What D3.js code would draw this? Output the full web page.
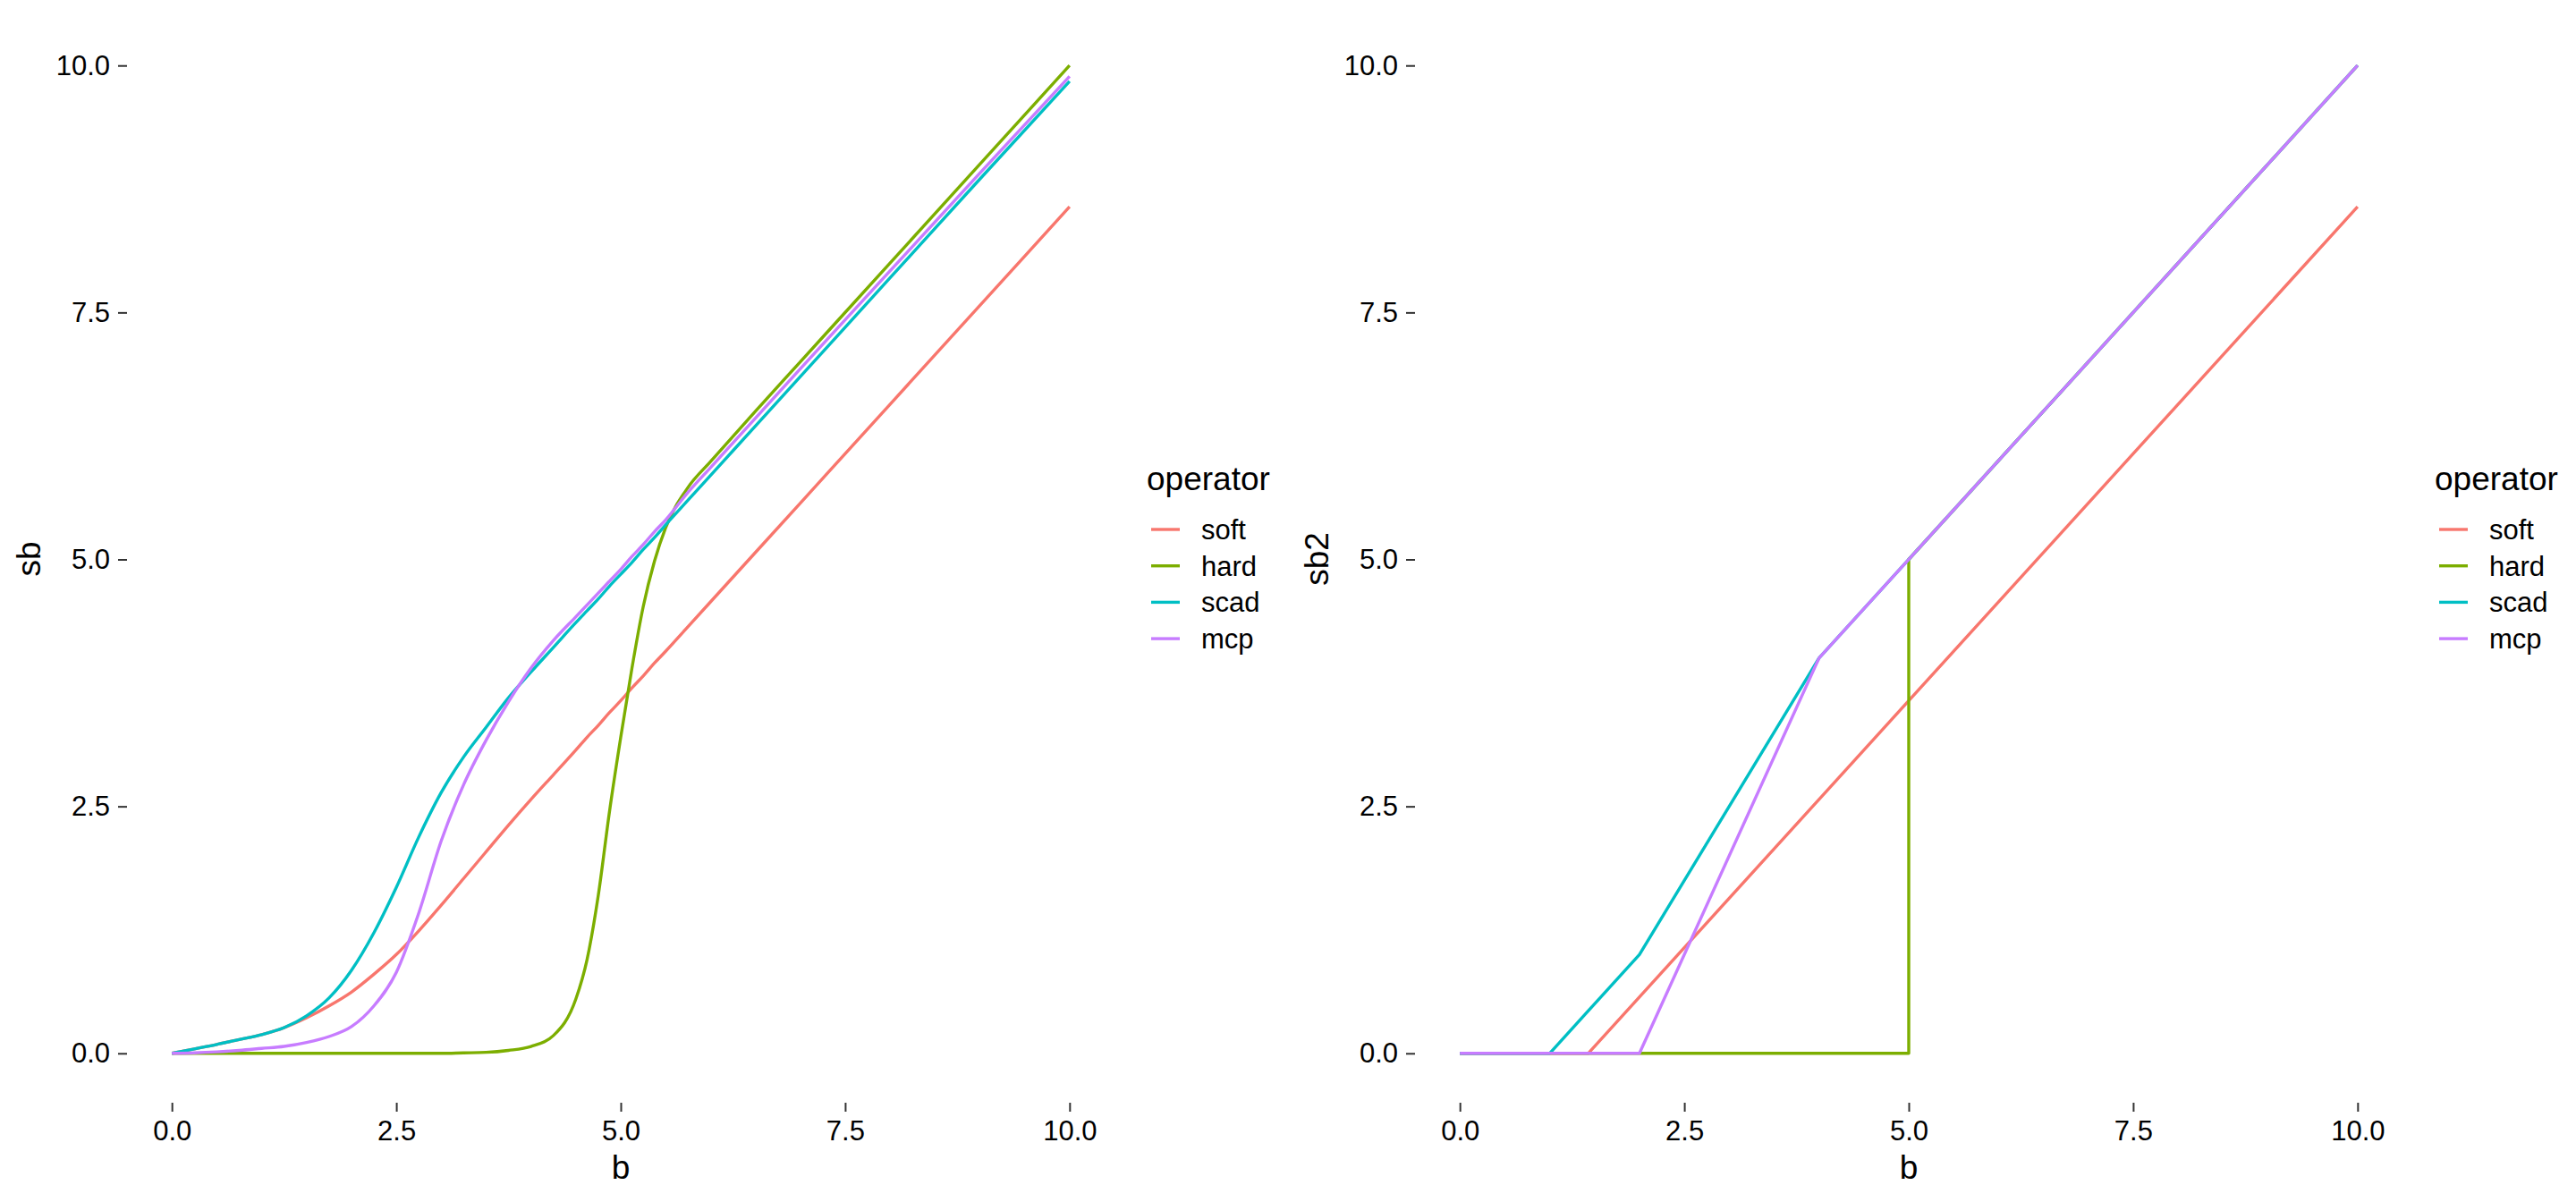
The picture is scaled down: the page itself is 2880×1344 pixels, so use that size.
<!DOCTYPE html>
<html>
<head>
<meta charset="utf-8">
<script src="https://cdn.jsdelivr.net/npm/d3@7"></script>
<style>
  html, body { margin: 0; padding: 0; background: #fff; }
  svg { display: block; font-family: "Liberation Sans", Arial, Helvetica, sans-serif; }
</style>
</head>
<body>
<div id="chart"></div>
<script>
// operators, in drawing order (last one on top)
const operators = ['soft', 'hard', 'scad', 'mcp']
const colors = ['#F8766D', '#7CAE00', '#00BFC4', '#C77CFF']

const axisTicks = [0, 2.5, 5, 7.5, 10]

// left panel: smooth operators, sampled on a shared b grid
const bGrid = [0, 0.25, 0.5, 0.75, 1, 1.25, 1.5, 1.75, 2, 2.25, 2.5, 2.75, 3, 3.25, 3.5, 3.75, 4, 4.25,
    4.5, 4.625, 4.75, 4.875, 5, 5.125, 5.25, 5.375, 5.5, 5.75, 6, 6.5, 7, 8, 9, 10]
const sbSoft = [0, 0.045, 0.09, 0.14, 0.19, 0.26, 0.36, 0.48, 0.62, 0.8, 1.0, 1.24, 1.5, 1.77, 2.04, 2.31, 2.57, 2.82,
    3.07, 3.2, 3.32, 3.45, 3.57, 3.7, 3.82, 3.95, 4.07, 4.32, 4.57, 5.07, 5.57, 6.57, 7.57, 8.57]
const sbHard = [0, 0, 0, 0, 0, 0, 0, 0, 0, 0, 0, 0, 0, 0.005, 0.01, 0.03, 0.07, 0.18,
    0.55, 0.95, 1.6, 2.45, 3.2, 3.9, 4.52, 4.98, 5.32, 5.73, 5.99, 6.5, 7.0, 8.0, 9.0, 10.0]
const sbScad = [0, 0.045, 0.09, 0.14, 0.19, 0.26, 0.38, 0.56, 0.84, 1.22, 1.68, 2.19, 2.64, 3.0, 3.3, 3.6, 3.86, 4.11,
    4.36, 4.48, 4.6, 4.73, 4.85, 4.97, 5.1, 5.22, 5.35, 5.6, 5.85, 6.35, 6.85, 7.85, 8.85, 9.84]
const sbMcp = [0, 0.005, 0.015, 0.03, 0.05, 0.07, 0.11, 0.17, 0.27, 0.48, 0.82, 1.42, 2.15, 2.72, 3.17, 3.56, 3.9, 4.18,
    4.42, 4.54, 4.66, 4.78, 4.9, 5.03, 5.15, 5.28, 5.4, 5.68, 5.93, 6.43, 6.93, 7.92, 8.91, 9.89]

// right panel: exact piecewise-linear operators (knots)
const soft2B = [0, 1.43, 10]
const soft2V = [0, 0, 8.57]
const hard2B = [0, 5, 5, 10]
const hard2V = [0, 0, 5, 10]
const scad2B = [0, 1, 2, 4, 10]
const scad2V = [0, 0, 1, 4, 10]
const mcp2B = [0, 2, 4, 10]
const mcp2V = [0, 0, 4, 10]

const W = 2880, H = 1344
const svg = d3.select('#chart').append('svg')
    .attr('width', W)
    .attr('height', H)

const zip = (xs, ys) => xs.map((x, i) => ({ b: x, v: ys[i] }))

const leftSeries = [sbSoft, sbHard, sbScad, sbMcp].map(vs => zip(bGrid, vs))
const rightSeries = [
    zip(soft2B, soft2V), zip(hard2B, hard2V), zip(scad2B, scad2V), zip(mcp2B, mcp2V)
]

function drawPanel(opt) {
    const x = d3.scaleLinear().domain([-0.5, 10.5]).range([opt.left, opt.left + 1104])
    const y = d3.scaleLinear().domain([-0.5, 10.5]).range([1233, 18])

    const g = svg.append('g').attr('class', 'panel')

    const xAxis = g.append('g')
        .attr('transform', 'translate(0,1233)')
        .call(d3.axisBottom(x).tickValues(axisTicks).tickFormat(d3.format('.1f')).tickSize(10).tickPadding(10))
    const yAxis = g.append('g')
        .attr('transform', 'translate(' + opt.left + ',0)')
        .call(d3.axisLeft(y).tickValues(axisTicks).tickFormat(d3.format('.1f')).tickSize(10).tickPadding(9))

    ;[xAxis, yAxis].forEach(a => {
        a.select('.domain').remove()
        a.selectAll('.tick line').attr('stroke', '#333').attr('stroke-width', 2)
        a.selectAll('.tick text').attr('fill', '#000').style('font-size', '31px')
            .style('font-family', '"Liberation Sans", Arial, sans-serif')
    })

    const line = d3.line()
        .x(d => x(d.b))
        .y(d => y(d.v))
        .curve(opt.curve)

    g.selectAll('path.op').data(opt.series).join('path')
        .attr('class', 'op')
        .attr('d', line)
        .attr('fill', 'none')
        .attr('stroke', (d, i) => colors[i])
        .attr('stroke-width', 3.4)
        .attr('stroke-linejoin', 'round')

    // axis titles
    g.append('text')
        .attr('x', opt.left + 552)
        .attr('y', 1318)
        .attr('text-anchor', 'middle')
        .style('font-size', '37px')
        .text('b')
    g.append('text')
        .attr('transform', 'translate(' + (opt.left - 97) + ',625) rotate(-90)')
        .attr('text-anchor', 'middle')
        .style('font-size', '37px')
        .text(opt.ylab)

    // legend
    const lg = g.append('g').attr('transform', 'translate(' + (opt.left + 1140) + ',0)')
    lg.append('text')
        .attr('x', 0)
        .attr('y', 548)
        .style('font-size', '37px')
        .text('operator')
    const item = lg.selectAll('g.item').data(operators).join('g')
        .attr('class', 'item')
        .attr('transform', (d, i) => 'translate(0,' + (592 + i * 40.7) + ')')
    item.append('line')
        .attr('x1', 5).attr('x2', 37)
        .attr('stroke', (d, i) => colors[i])
        .attr('stroke-width', 3.4)
    item.append('text')
        .attr('x', 61)
        .attr('y', 11)
        .style('font-size', '31px')
        .text(d => d)
}

drawPanel({ left: 142, series: leftSeries, ylab: 'sb', curve: d3.curveMonotoneX })
drawPanel({ left: 1582, series: rightSeries, ylab: 'sb2', curve: d3.curveLinear })
</script>
</body>
</html>
